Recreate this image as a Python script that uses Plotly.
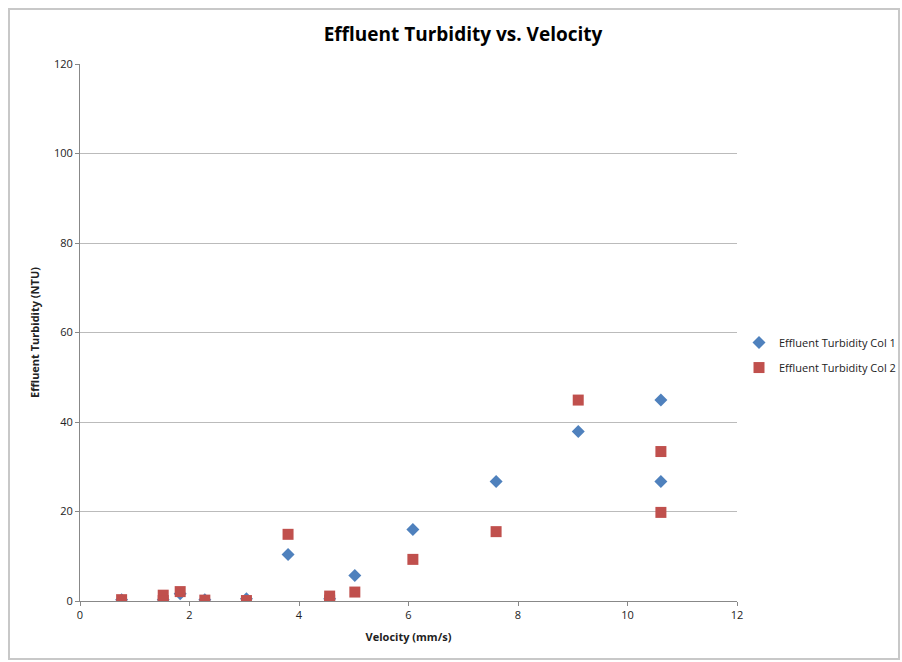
import plotly.graph_objects as go

col1_x = [0.76, 1.52, 1.83, 2.28, 3.04, 3.80, 4.56, 5.02, 6.08, 7.60, 9.10, 10.61, 10.61]
col1_y = [0.3, 0.3, 1.6, 0.3, 0.5, 10.4, 0.5, 5.7, 16.0, 26.7, 37.9, 44.9, 26.7]

col2_x = [0.76, 1.52, 1.52, 1.83, 2.28, 3.04, 3.80, 4.56, 4.56, 5.02, 6.08, 7.60, 9.10, 10.61, 10.61]
col2_y = [0.3, 1.3, 0.1, 2.1, 0.2, 0.1, 14.9, 1.1, 0.2, 2.0, 9.3, 15.5, 44.9, 33.4, 19.8]

x_ticks = [0, 2, 4, 6, 8, 10, 12]
y_ticks = [0, 20, 40, 60, 80, 100, 120]

font = "Open Sans, Liberation Sans, sans-serif"

fig = go.Figure()
fig.add_trace(go.Scatter(x=col1_x, y=col1_y, mode="markers", name="Effluent Turbidity Col 1",
                         legendgroup="c1",
                         marker=dict(symbol="diamond", size=10, color="#4F81BD")))
fig.add_trace(go.Scatter(x=col2_x, y=col2_y, mode="markers", name="Effluent Turbidity Col 2",
                         legendgroup="c2",
                         marker=dict(symbol="square", size=11, color="#C0504D")))

fig.update_layout(
    width=902, height=662,
    margin=dict(l=80, r=165, t=64, b=61, autoexpand=False),
    paper_bgcolor="white", plot_bgcolor="white",
    font=dict(family=font, size=11, color="#222"),
    title=dict(text="<b>Effluent Turbidity vs. Velocity</b>", x=(463) / 902, xanchor="center",
               y=1 - 34 / 662, yanchor="middle", font=dict(size=19, color="black", family=font)),
    legend=dict(x=(739 - 80) / 657, y=0.458, xanchor="left", yanchor="middle",
                font=dict(size=11, color="#222"),
                tracegroupgap=6, bgcolor="rgba(0,0,0,0)"),
    xaxis=dict(range=[0, 12], tickvals=x_ticks, ticktext=[str(v) for v in x_ticks],
               showgrid=False, zeroline=False, showline=True, linecolor="#888", linewidth=1,
               ticks="outside", ticklen=4, tickcolor="#888",
               title=dict(text="<b>Velocity (mm/s)</b>", font=dict(size=11), standoff=12)),
    yaxis=dict(range=[0, 120], tickvals=y_ticks, ticktext=[str(v) for v in y_ticks],
               showgrid=True, gridcolor="#BBBBBB", gridwidth=1, zeroline=False,
               showline=True, linecolor="#888", linewidth=1,
               ticks="outside", ticklen=4, tickcolor="#888",
               title=dict(text="<b>Effluent Turbidity (NTU)</b>", font=dict(size=11), standoff=12)),
)

fig.add_shape(type="rect", xref="paper", yref="paper",
              x0=(9 - 80) / 657, x1=(899 - 80) / 657, y0=(601 - 659) / 537, y1=(601 - 9) / 537,
              line=dict(color="#C8C8C8", width=2), fillcolor="rgba(0,0,0,0)", layer="below")

fig.write_html("out.html")
